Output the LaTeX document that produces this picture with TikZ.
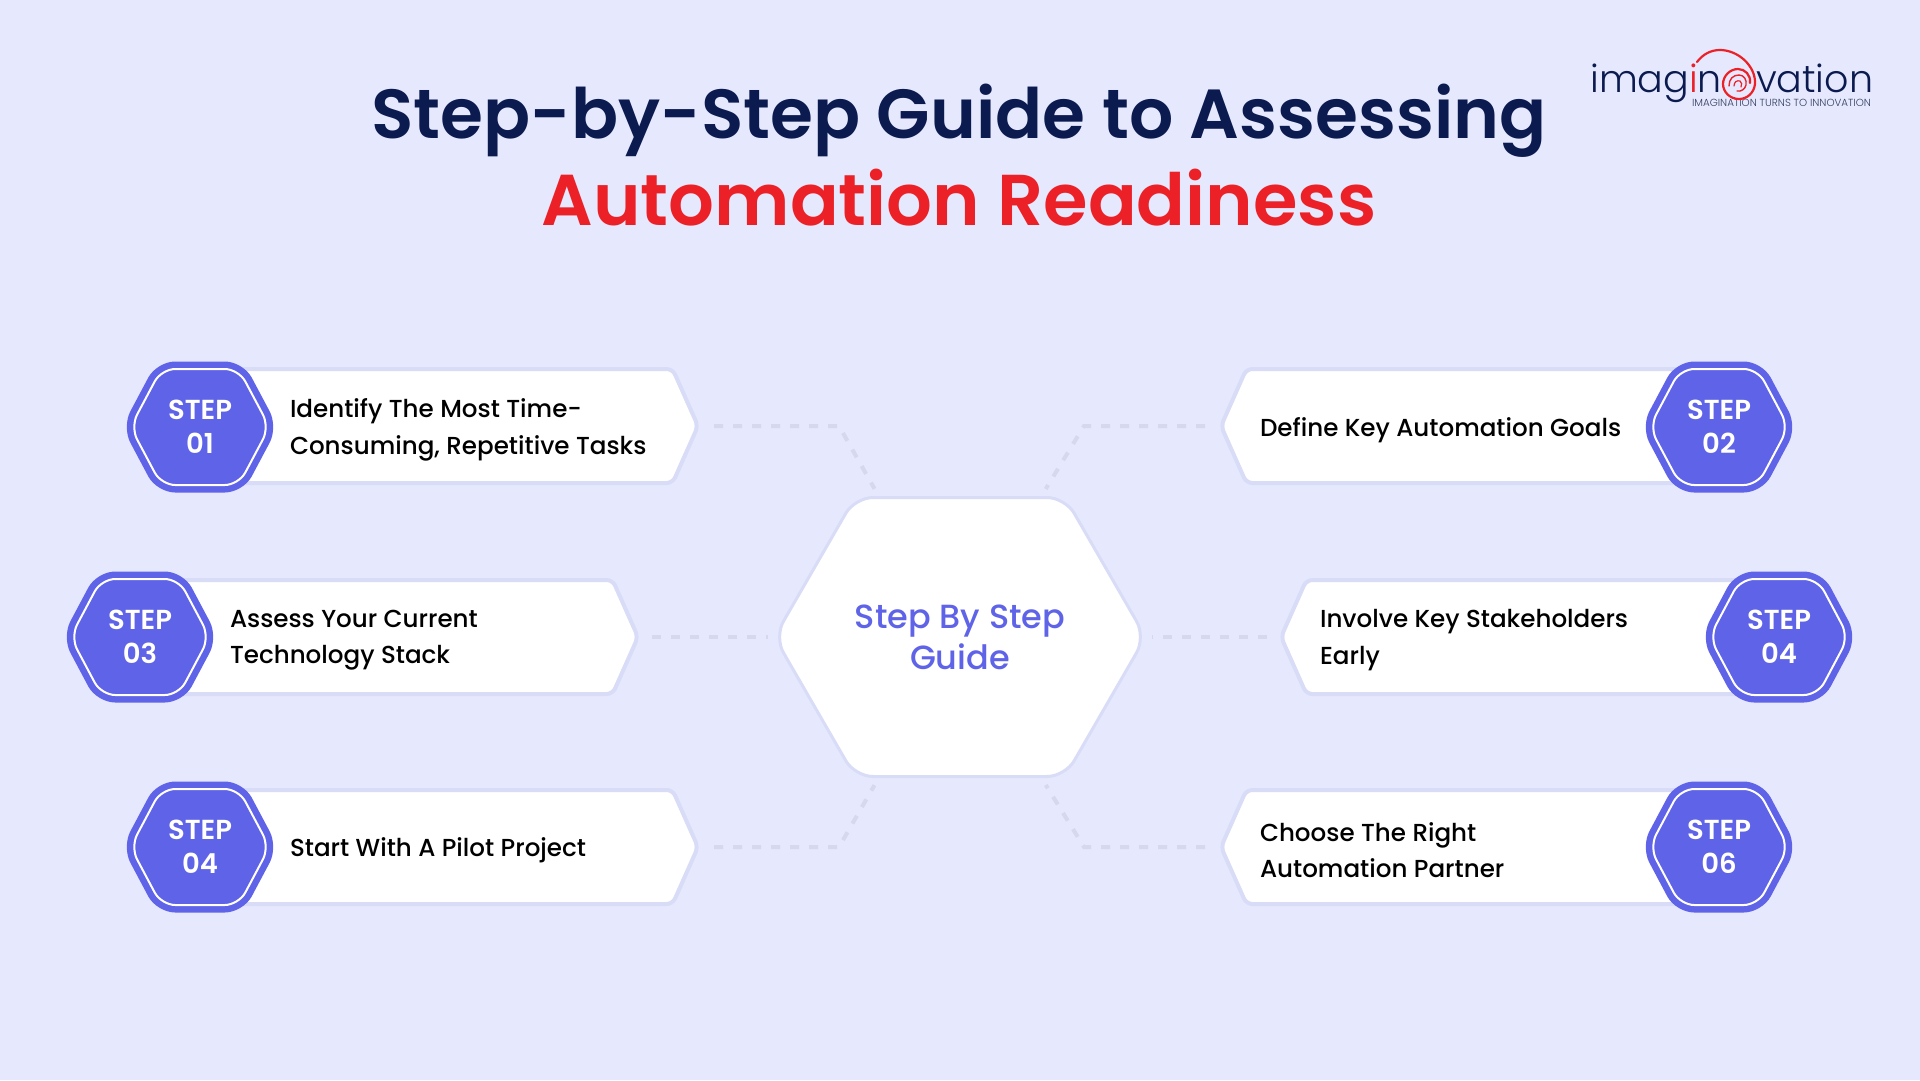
\documentclass[tikz,border=0pt]{standalone}
\usepackage{fontspec}
\setmainfont{Poppins}
\newfontfamily\medfont{Poppins Medium}
\newfontfamily\boldfont{Poppins SemiBold}
\newfontfamily\logofont{Poppins Light}
\usetikzlibrary{shapes.symbols}
\definecolor{pagebg}{HTML}{E6E9FD}
\definecolor{navy}{HTML}{0B1A4F}
\definecolor{alert}{HTML}{EC2027}
\definecolor{stepblue}{HTML}{5F63E8}
\definecolor{rimblue}{HTML}{D9DCF6}
\definecolor{dashgrey}{HTML}{D6D9EE}
\tikzstyle{every node}=[inner sep=0pt, outer sep=0pt]
\tikzstyle{banner}=[signal, signal from=nowhere, minimum height=114pt, minimum width=498pt, fill=white,
                    draw=rimblue, line width=4pt, rounded corners=6pt, signal pointer angle=132]
\tikzstyle{badge}=[signal, signal to=east and west, signal from=nowhere, signal pointer angle=124,
                   minimum height=116pt, minimum width=139pt, rounded corners=14pt, fill=stepblue,
                   draw=stepblue, double=white, double distance=2pt, line width=6.5pt,
                   align=center, text=white, font=\boldfont\fontsize{27.5}{34}\selectfont]
\tikzstyle{caption}=[align=left, font=\medfont\fontsize{24.6}{36.4}\selectfont]
\tikzstyle{logotext}=[text=navy, font=\logofont\fontsize{38}{38}\selectfont]
\tikzstyle{link}=[draw=dashgrey, line width=4pt, dash pattern=on 9pt off 10pt]
\begin{document}
\begin{tikzpicture}[x=1pt,y=-1pt]
      \fill[pagebg] (0,0) rectangle (1920,1080);
      \useasboundingbox (0,0) rectangle (1920,1080);
      % heading
      \node[text=navy, font=\boldfont\fontsize{69.5}{70}\selectfont] (head) at (959,121) {Step-by-Step Guide to Assessing};
      \node[text=alert, font=\boldfont\fontsize{72}{72}\selectfont] (subhead) at (959,198) {Automation Readiness};
      % logo
      \node[logotext, anchor=base east] (imagin) at (1722,92) {imag{\color{alert}i}n};
      \node[logotext, anchor=base west] (vation) at (1756,92) {vation};
      \node[anchor=base east, text=navy!65!gray, font=\logofont\fontsize{10.3}{10}\selectfont] (motto) at (1871,106) {IMAGINATION TURNS TO INNOVATION};
      \draw[alert, line width=2.2pt, line cap=round] (1697,62) .. controls (1703,54) and (1711,50) .. (1720,50)
        .. controls (1738,50) and (1756,66) .. (1755,84) .. controls (1754,93) and (1747,99) .. (1739,99)
        .. controls (1730,99) and (1723,92) .. (1723,84) .. controls (1723,76) and (1730,69) .. (1738,69)
        .. controls (1745,69) and (1751,75) .. (1750,83);
      \draw[alert, line width=1.4pt, line cap=round] (1729,86) .. controls (1729,79) and (1733,75) .. (1739,75)
        .. controls (1744,75) and (1747,80) .. (1746,85) .. controls (1745,89) and (1741,92) .. (1737,91);
      \draw[alert, line width=1.2pt, line cap=round] (1734,86) .. controls (1734,82) and (1737,80) .. (1740,81)
        .. controls (1742,82) and (1742,85) .. (1741,87);
      % banners
      \node[banner, anchor=west] (one) at (200,426) {};
      \node[banner, anchor=west] (three) at (140,637) {};
      \node[banner, anchor=west] (five) at (200,847) {};
      \node[banner, signal to=west, anchor=east] (two) at (1719,426) {};
      \node[banner, signal to=west, anchor=east] (four) at (1779,637) {};
      \node[banner, signal to=west, anchor=east] (six) at (1719,847) {};
      % badges
      \node[badge] (stepone) at (200,427) {STEP\\01};
      \node[badge] (stepthree) at (140,637) {STEP\\03};
      \node[badge] (stepfive) at (200,847) {STEP\\04};
      \node[badge] (steptwo) at (1719,427) {STEP\\02};
      \node[badge] (stepfour) at (1779,637) {STEP\\04};
      \node[badge] (stepsix) at (1719,847) {STEP\\06};
      % captions
      \node[caption, anchor=west] (textone) at (290,430) {Identify The Most Time-\\Consuming, Repetitive Tasks};
      \node[caption, anchor=west] (textthree) at (230,640) {Assess Your Current\\Technology Stack};
      \node[caption, anchor=west] (textfive) at (290,850) {Start With A Pilot Project};
      \node[caption, anchor=west] (texttwo) at (1260,430) {Define Key Automation Goals};
      \node[caption, anchor=west] (textfour) at (1320,640) {Involve Key Stakeholders\\Early};
      \node[caption, anchor=west] (textsix) at (1260,850) {Choose The Right\\Automation Partner};
      % centre
      \node[signal, signal to=east and west, signal from=nowhere, signal pointer angle=120,
            minimum height=279pt, minimum width=309pt, rounded corners=18pt, fill=white,
            draw=rimblue, line width=3pt, align=center, text=stepblue,
            font=\medfont\fontsize{33.5}{41}\selectfont] (hub) at (960,637) {Step By Step\\Guide};
      % dashed links
      \coordinate (bendone) at (839,426);
      \coordinate (bendtwo) at (1084,426);
      \coordinate (bendfive) at (839,847);
      \coordinate (bendsix) at (1084,847);
      \draw[link, shorten <=16pt, shorten >=10pt] (one.east) -- (bendone) -- (hub.120);
      \draw[link, shorten <=16pt, shorten >=10pt] (two.west) -- (bendtwo) -- (hub.60);
      \draw[link, shorten <=16pt, shorten >=10pt] (five.east) -- (bendfive) -- (hub.240);
      \draw[link, shorten <=16pt, shorten >=10pt] (six.west) -- (bendsix) -- (hub.300);
      \draw[link, shorten <=14pt, shorten >=6pt] (three.east) -- (hub.west);
      \draw[link, shorten <=14pt, shorten >=6pt] (four.west) -- (hub.east);
\end{tikzpicture}
\end{document}
